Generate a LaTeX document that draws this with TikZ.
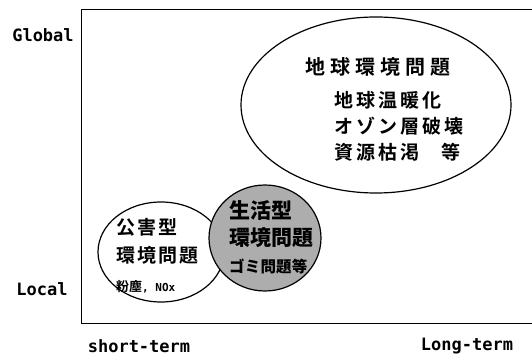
\documentclass[tikz,border=0pt]{standalone}
\usepackage{fontspec}
\newfontfamily\jp{Noto Sans CJK JP Bold}
\newfontfamily\jpt[LetterSpace=25]{Noto Sans CJK JP Bold}
\newfontfamily\jpm[LetterSpace=16]{Noto Sans CJK JP Bold}
\newfontfamily\jps[LetterSpace=11]{Noto Sans CJK JP Bold}
\newfontfamily\jpb[LetterSpace=1]{Noto Sans CJK JP Black}
\newfontfamily\lbl{DejaVu Sans Mono Bold}
\tikzset{
  axislbl/.style={font=\lbl\fontsize{17}{17}\selectfont, inner sep=0pt},
  bubble/.style={draw=black, line width=1.2pt},
  jtxt/.style={inner sep=0pt, anchor=west},
}
\begin{document}
\begin{tikzpicture}[x=1pt,y=-1pt]
\useasboundingbox (0,0) rectangle (532,355);
% frame
\draw[line width=1pt] (532,10) -- (81,10) -- (81,323) -- (532,323);
% axis labels
\node[axislbl] (glob) at (43,35) {Global};
\node[axislbl] (loc) at (42,289) {Local};
\node[axislbl] (st) at (139,346) {short-term};
\node[axislbl] (lt) at (467,346) {Long-term};
% global ellipse
\draw[bubble, fill=white] (376,105) ellipse [x radius=135, y radius=88];
\node[jtxt, font=\jpt\fontsize{20}{20}\selectfont] (g1) at (305,67) {地球環境問題};
\node[jtxt, font=\jpm\fontsize{19}{19}\selectfont] (g2) at (334,100) {地球温暖化};
\node[jtxt, font=\jpm\fontsize{19}{19}\selectfont] (g3) at (334,126) {オゾン層破壊};
\node[jtxt, font=\jpm\fontsize{19}{19}\selectfont] (g4) at (334,152) {資源枯渇\hspace{22pt}等};
% pollution ellipse
\draw[bubble, fill=white] (161,252) ellipse [x radius=63, y radius=50];
\node[jtxt, font=\jps\fontsize{19}{19}\selectfont] (p1) at (116,227) {公害型};
\node[jtxt, font=\jps\fontsize{19}{19}\selectfont] (p2) at (116,255) {環境問題};
\node[jtxt, font=\jp\fontsize{13}{13}\selectfont] (p3) at (116,287) {粉塵{\lbl\fontsize{11}{11}\selectfont,~NOx}};
% lifestyle circle
\draw[bubble, fill=black!32] (265,238) ellipse [x radius=56, y radius=53];
\node[jtxt, font=\jpb\fontsize{21}{21}\selectfont] (l1) at (229,210) {生活型};
\node[jtxt, font=\jpb\fontsize{21}{21}\selectfont] (l2) at (229,238) {環境問題};
\node[jtxt, font=\jpb\fontsize{15.5}{15.5}\selectfont] (l3) at (229,267) {ゴミ問題等};
\end{tikzpicture}
\end{document}
